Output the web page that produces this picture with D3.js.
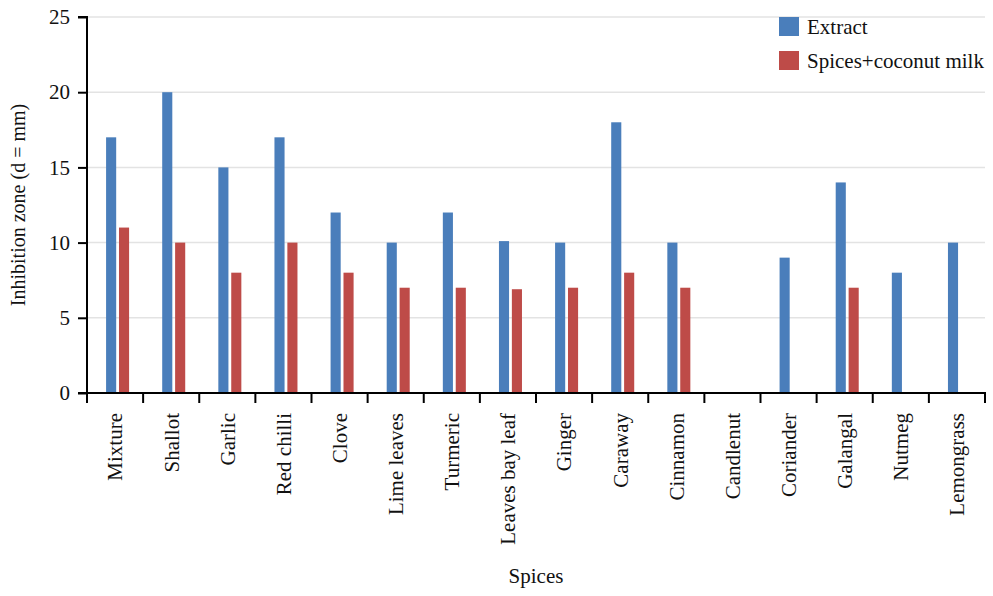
<!DOCTYPE html>
<html>
<head>
<meta charset="utf-8">
<script src="https://cdn.jsdelivr.net/npm/d3@7"></script>
<style>
  body { margin: 0; background: #fff; }
  svg text { font-family: "Liberation Serif", "Times New Roman", Times, serif; fill: #111; }
</style>
</head>
<body>
<div id="chart"></div>
<script>
const spices = ['Mixture', 'Shallot', 'Garlic', 'Red chilli', 'Clove', 'Lime leaves', 'Turmeric',
  'Leaves bay leaf', 'Ginger', 'Caraway', 'Cinnamon', 'Candlenut', 'Coriander', 'Galangal',
  'Nutmeg', 'Lemongrass'];
const extract = [17, 20, 15, 17, 12, 10, 12, 10.1, 10, 18, 10, 0, 9, 14, 8, 10];
const coconutMilk = [11, 10, 8, 10, 8, 7, 7, 6.9, 7, 8, 7, 0, 0, 7, 0, 0];
const seriesNames = ['Extract', 'Spices+coconut milk'];
const yTicks = [0, 5, 10, 15, 20, 25];

const width = 993;
const height = 596;
const margin = { top: 17, right: 8, bottom: 203, left: 87 };
const colors = ['#4a7ebb', '#be4b48'];
const serif = '"Liberation Serif", "Times New Roman", Times, serif';

const svg = d3.select('#chart')
  .append('svg')
  .attr('width', width)
  .attr('height', height)
  .attr('font-family', serif);

const x = d3.scaleBand()
  .domain(spices)
  .range([margin.left, width - margin.right]);

const y = d3.scaleLinear()
  .domain([0, 25])
  .range([height - margin.bottom, margin.top]);

// gridlines
svg.append('g')
  .selectAll('line')
  .data(yTicks.filter(d => d > 0))
  .join('line')
  .attr('x1', margin.left)
  .attr('x2', width - margin.right)
  .attr('y1', d => y(d))
  .attr('y2', d => y(d))
  .attr('stroke', '#e3e3e3')
  .attr('stroke-width', 1.5);

// bars
const barW = x.bandwidth() * 0.18;
const offsets = [x.bandwidth() * 0.34, x.bandwidth() * 0.57];

[extract, coconutMilk].forEach((values, i) => {
  svg.append('g')
    .selectAll('rect')
    .data(spices.map((s, j) => ({ s, v: values[j] })).filter(d => d.v > 0))
    .join('rect')
    .attr('x', d => x(d.s) + offsets[i])
    .attr('y', d => y(d.v))
    .attr('width', barW)
    .attr('height', d => y(0) - y(d.v))
    .attr('fill', colors[i]);
});

// y axis
const yAxis = svg.append('g')
  .attr('transform', `translate(${margin.left},0)`)
  .call(d3.axisLeft(y).tickValues(yTicks).tickSize(9).tickPadding(8));
yAxis.attr('font-family', serif).attr('font-size', 21);
yAxis.selectAll('path, line').attr('stroke', '#000').attr('stroke-width', 2);
yAxis.select('.domain').attr('d', `M-9,${y(25)}H0V${y(0)}`);
yAxis.selectAll('text').attr('fill', '#111');

// x axis
const boundaries = spices.map(s => x(s)).concat([width - margin.right]);
const xAxis = svg.append('g');
xAxis.append('line')
  .attr('x1', margin.left - 9)
  .attr('x2', width - margin.right + 1)
  .attr('y1', y(0))
  .attr('y2', y(0))
  .attr('stroke', '#000')
  .attr('stroke-width', 2);
xAxis.selectAll('.tick')
  .data(boundaries)
  .join('line')
  .attr('x1', d => d)
  .attr('x2', d => d)
  .attr('y1', y(0))
  .attr('y2', y(0) + 10)
  .attr('stroke', '#000')
  .attr('stroke-width', 2);

xAxis.selectAll('text')
  .data(spices)
  .join('text')
  .attr('transform', d => `translate(${x(d) + x.bandwidth() / 2},${y(0) + 20}) rotate(-90)`)
  .attr('text-anchor', 'end')
  .attr('dy', '0.35em')
  .attr('font-size', 21)
  .text(d => d);

// axis titles
svg.append('text')
  .attr('transform', `translate(25,${(y(0) + y(25)) / 2}) rotate(-90)`)
  .attr('text-anchor', 'middle')
  .attr('font-size', 20)
  .text('Inhibition zone (d = mm)');

svg.append('text')
  .attr('x', (margin.left + width - margin.right) / 2)
  .attr('y', 583)
  .attr('text-anchor', 'middle')
  .attr('font-size', 21)
  .text('Spices');

// legend
const legend = svg.append('g')
  .attr('transform', 'translate(779,17)');
seriesNames.forEach((name, i) => {
  legend.append('rect')
    .attr('x', 0)
    .attr('y', i * 34)
    .attr('width', 20)
    .attr('height', 19)
    .attr('fill', colors[i]);
  legend.append('text')
    .attr('x', 28)
    .attr('y', i * 34 + 17)
    .attr('font-size', 21)
    .text(name);
});
</script>
</body>
</html>
